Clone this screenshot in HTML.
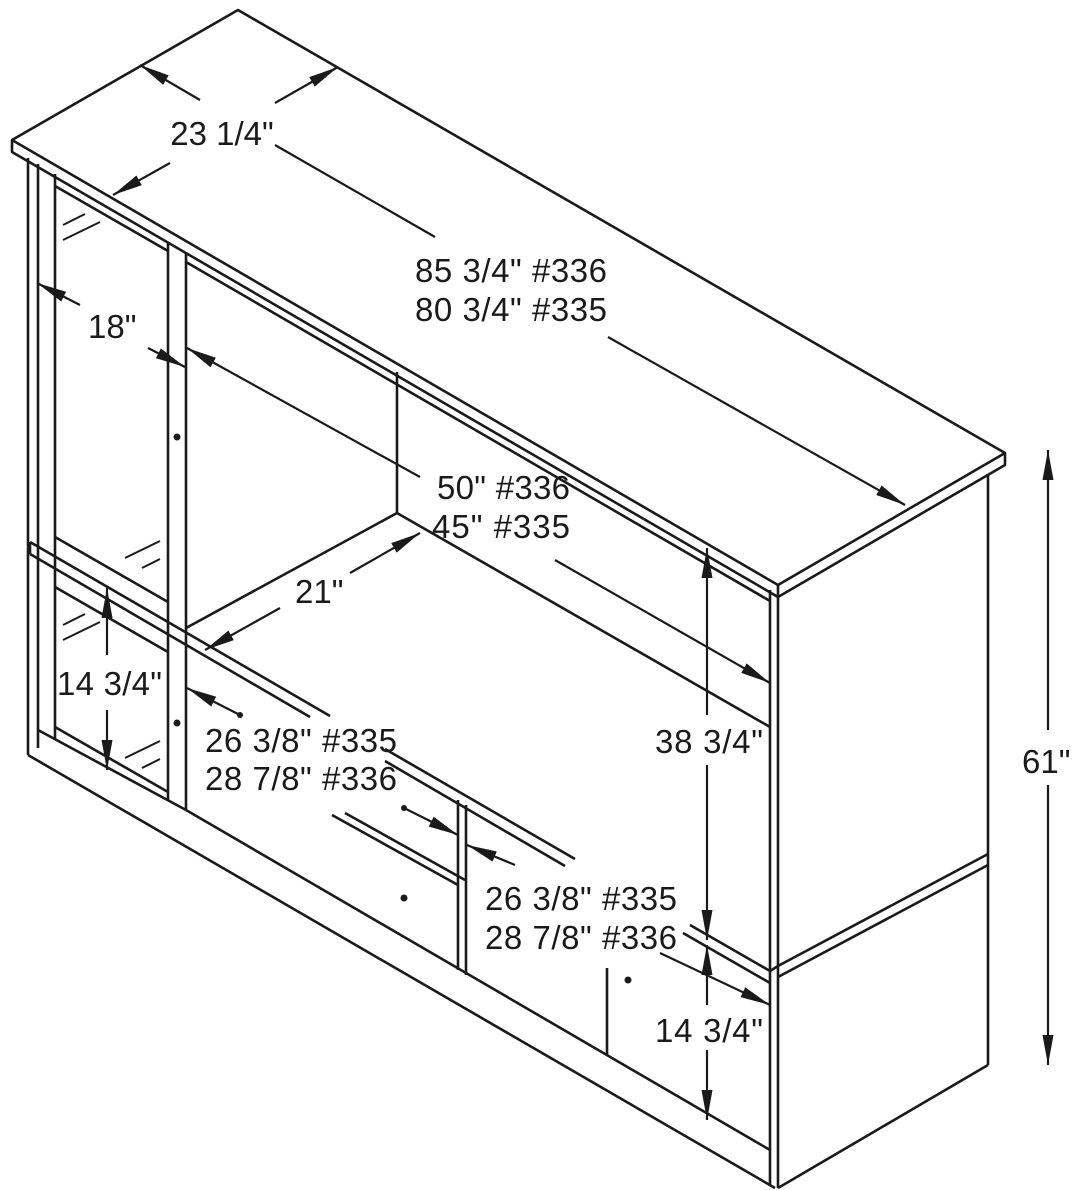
<!DOCTYPE html>
<html><head><meta charset="utf-8"><style>
html,body{margin:0;padding:0;background:#fff}
svg{display:block}
text{font-family:"Liberation Sans",Arial,sans-serif;font-size:33px;fill:#1a1a1a}
</style></head><body>
<svg width="1079" height="1190" viewBox="0 0 1079 1190" xmlns="http://www.w3.org/2000/svg">
<defs>
<marker id="a" viewBox="0 0 10 10" refX="10" refY="5" markerWidth="30" markerHeight="11" markerUnits="userSpaceOnUse" orient="auto-start-reverse" preserveAspectRatio="none"><path d="M0,0 L10,5 L0,10 z" fill="#1a1a1a"/></marker>
</defs>
<g stroke="#1a1a1a" stroke-width="2.6" fill="none" stroke-linejoin="round">
<polygon points="12,140 238,10 1005,453 778,585" fill="#fff"/>
<polyline points="12,140 12,152 778,597 1005,465 1005,453"/>
<line x1="778" y1="585" x2="778" y2="597"/>
<line x1="28" y1="158" x2="28" y2="755"/>
<line x1="38" y1="164" x2="38" y2="748"/>
<line x1="55" y1="174" x2="55" y2="740"/>
<line x1="55" y1="186" x2="168" y2="251"/>
<line x1="186" y1="262" x2="770" y2="601"/>
<line x1="168" y1="242" x2="168" y2="800"/>
<line x1="186" y1="252" x2="186" y2="810"/>
<line x1="55" y1="537" x2="168" y2="602"/>
<line x1="55" y1="587" x2="168" y2="652"/>
<line x1="55" y1="727" x2="168" y2="792"/>
<g stroke-width="2">
<line x1="63" y1="225" x2="85" y2="214"/><line x1="63" y1="240" x2="100" y2="222"/>
<line x1="125" y1="558" x2="160" y2="541"/><line x1="142" y1="568" x2="160" y2="559"/>
<line x1="63" y1="625" x2="85" y2="614"/><line x1="63" y1="640" x2="100" y2="622"/>
<line x1="125" y1="758" x2="160" y2="741"/><line x1="142" y1="768" x2="160" y2="759"/>
</g>
<line x1="30" y1="542" x2="330" y2="716"/>
<line x1="30" y1="554" x2="310" y2="717"/>
<line x1="30" y1="542" x2="30" y2="554"/>
<line x1="385" y1="749" x2="575" y2="859"/>
<line x1="385" y1="761" x2="565" y2="866"/>
<line x1="690" y1="925" x2="770" y2="971"/>
<line x1="683" y1="933" x2="770" y2="983"/>
<line x1="332" y1="815" x2="458" y2="885"/>
<line x1="345" y1="813" x2="465" y2="880"/>
<line x1="458" y1="800" x2="458" y2="970"/>
<line x1="466" y1="805" x2="466" y2="975"/>
<line x1="607" y1="968" x2="607" y2="1055"/>
<line x1="28" y1="755" x2="775" y2="1188"/>
<line x1="38" y1="730" x2="186" y2="810"/>
<line x1="186" y1="810" x2="770" y2="1150"/>
<line x1="397" y1="372" x2="397" y2="513"/>
<line x1="186" y1="628" x2="397" y2="513"/>
<line x1="397" y1="513" x2="770" y2="727"/>
<line x1="770" y1="590" x2="770" y2="1185"/>
<line x1="778" y1="597" x2="778" y2="1188"/>
<line x1="988" y1="475" x2="988" y2="1065"/>
<line x1="778" y1="966" x2="988" y2="854"/>
<line x1="778" y1="977" x2="988" y2="865"/>
<line x1="778" y1="1188" x2="988" y2="1065"/>
<line x1="770" y1="971" x2="778" y2="966"/>
</g>
<g fill="#1a1a1a">
<circle cx="177" cy="437" r="3.5"/><circle cx="177" cy="723" r="3.5"/><circle cx="404" cy="898" r="3.5"/><circle cx="628" cy="980" r="3.5"/>
<circle cx="240" cy="715" r="3"/><circle cx="404" cy="808" r="3"/>
</g>
<g stroke="#1a1a1a" stroke-width="2.2" fill="none">
<line x1="275" y1="103" x2="338" y2="67" marker-end="url(#a)"/>
<line x1="170" y1="163" x2="113" y2="195" marker-end="url(#a)"/>
<line x1="200" y1="100" x2="140" y2="65" marker-end="url(#a)"/>
<line x1="275" y1="145" x2="435" y2="237"/>
<line x1="608" y1="337" x2="905" y2="505" marker-end="url(#a)"/>
<line x1="80" y1="305" x2="37" y2="283" marker-end="url(#a)"/>
<line x1="148" y1="348" x2="185" y2="367" marker-end="url(#a)"/>
<line x1="420" y1="477" x2="187" y2="348" marker-end="url(#a)"/>
<line x1="555" y1="560" x2="770" y2="683" marker-end="url(#a)"/>
<line x1="350" y1="573" x2="420" y2="533" marker-end="url(#a)"/>
<line x1="280" y1="608" x2="205" y2="650" marker-end="url(#a)"/>
<line x1="107" y1="655" x2="107" y2="588" marker-end="url(#a)"/>
<line x1="107" y1="710" x2="107" y2="770" marker-end="url(#a)"/>
<line x1="240" y1="715" x2="187" y2="688" marker-end="url(#a)"/>
<line x1="404" y1="808" x2="458" y2="835" marker-end="url(#a)"/>
<line x1="515" y1="865" x2="467" y2="845" marker-end="url(#a)"/>
<line x1="660" y1="953" x2="770" y2="1005" marker-end="url(#a)"/>
<line x1="707" y1="715" x2="707" y2="548" marker-end="url(#a)"/>
<line x1="707" y1="765" x2="707" y2="940" marker-end="url(#a)"/>
<line x1="707" y1="1005" x2="707" y2="945" marker-end="url(#a)"/>
<line x1="707" y1="1050" x2="707" y2="1120" marker-end="url(#a)"/>
<line x1="1048" y1="730" x2="1048" y2="450" marker-end="url(#a)"/>
<line x1="1048" y1="785" x2="1048" y2="1065" marker-end="url(#a)"/>
</g>
<g>
<text x="222" y="145" text-anchor="middle">23 1/4"</text>
<text x="415" y="282" textLength="192">85 3/4" #336</text>
<text x="415" y="321" textLength="192">80 3/4" #335</text>
<text x="88" y="338">18"</text>
<text x="437" y="499" textLength="133">50" #336</text>
<text x="432" y="538" textLength="138">45" #335</text>
<text x="295" y="603">21"</text>
<text x="57" y="695" textLength="105">14 3/4"</text>
<text x="205" y="752" textLength="192">26 3/8" #335</text>
<text x="205" y="790" textLength="192">28 7/8" #336</text>
<text x="655" y="753" textLength="108">38 3/4"</text>
<text x="1022" y="773">61"</text>
<text x="485" y="910" textLength="192">26 3/8" #335</text>
<text x="485" y="949" textLength="192">28 7/8" #336</text>
<text x="655" y="1042" textLength="108">14 3/4"</text>
</g>
</svg>
</body></html>
